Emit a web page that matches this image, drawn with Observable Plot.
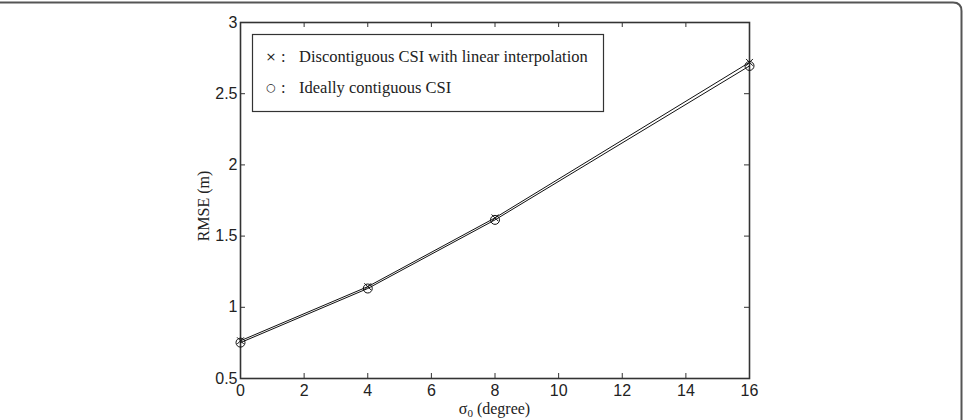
<!DOCTYPE html>
<html>
<head>
<meta charset="utf-8">
<script src="https://cdn.jsdelivr.net/npm/d3@7"></script>
<script src="https://cdn.jsdelivr.net/npm/@observablehq/plot@0.6"></script>
<style>
  html, body { margin: 0; padding: 0; background: #fff; }
  #chart { position: relative; width: 964px; height: 420px; }
</style>
</head>
<body>
<div id="chart"></div>
<script>
// Angular spread sigma_0 (degrees) and position RMSE (m) for the two CSI cases
const sigma = [0, 4, 8, 16];
const rmseInterp = [0.765, 1.145, 1.628, 2.72];  // discontiguous CSI, linear interpolation
const rmseIdeal = [0.752, 1.132, 1.614, 2.695];  // ideally contiguous CSI

const xTicks = [0, 2, 4, 6, 8, 10, 12, 14, 16];
const yTicks = [0.5, 1, 1.5, 2, 2.5, 3];

const legendLabels = [
  "Discontiguous CSI with linear interpolation",
  "Ideally contiguous CSI"
];
const legendGlyphs = ["\u00d7", "\u25cb"];

const W = 964, H = 420;
const mL = 240, mR = 215, mT = 22, mB = 42;
const innerW = W - mL - mR, innerH = H - mT - mB;

const interp = sigma.map((s, i) => ({s, v: rmseInterp[i]}));
const ideal = sigma.map((s, i) => ({s, v: rmseIdeal[i]}));

const tickLen = 5;
const axisColor = "#333";
const fmt = d => String(d);

const chart = Plot.plot({
  width: W,
  height: H,
  marginLeft: mL,
  marginRight: mR,
  marginTop: mT,
  marginBottom: mB,
  style: {fontFamily: "'Liberation Sans', Arial, sans-serif", fontSize: "16px", color: "#222", background: "#fff"},
  x: {domain: [0, 16], ticks: xTicks},
  y: {domain: [0.5, 3], ticks: yTicks},
  marks: [
    // inward tick marks on all four sides
    Plot.tickX(xTicks, {x: d => d, insetTop: innerH - tickLen, stroke: axisColor}),
    Plot.tickX(xTicks, {x: d => d, insetBottom: innerH - tickLen, stroke: axisColor}),
    Plot.tickY(yTicks, {y: d => d, insetRight: innerW - tickLen, stroke: axisColor}),
    Plot.tickY(yTicks, {y: d => d, insetLeft: innerW - tickLen, stroke: axisColor}),
    Plot.axisX({ticks: xTicks, tickSize: 0, tickPadding: 6, tickFormat: fmt, label: null, fill: "#222"}),
    Plot.axisY({ticks: yTicks, tickSize: 0, tickPadding: 3, tickFormat: fmt, label: null, fill: "#222"}),
    Plot.frame({stroke: axisColor, strokeWidth: 1.6}),
    Plot.line(interp, {x: "s", y: "v", stroke: "#111", strokeWidth: 1}),
    Plot.line(ideal, {x: "s", y: "v", stroke: "#111", strokeWidth: 1}),
    Plot.dot(interp, {x: "s", y: "v", symbol: "times", r: 3.2, stroke: "#111", strokeWidth: 1}),
    Plot.dot(ideal, {x: "s", y: "v", symbol: "circle", r: 4.5, stroke: "#111", strokeWidth: 1, fill: "none"})
  ]
});

const svg = d3.select(chart);

// outer panel border (top edge with rounded corner on the right)
svg.append("path")
  .attr("d", `M0,2.5 H953 Q961.5,2.5 961.5,11 V${H}`)
  .attr("fill", "none")
  .attr("stroke", "#555")
  .attr("stroke-width", 2);

// axis titles
const serif = "'Liberation Serif', 'Times New Roman', serif";
svg.append("text")
  .attr("transform", `translate(209,${mT + innerH / 2 + 6}) rotate(-90)`)
  .attr("text-anchor", "middle")
  .attr("font-family", serif)
  .attr("font-size", 16)
  .attr("fill", "#222")
  .text("RMSE (m)");

const xl = svg.append("text")
  .attr("x", mL + innerW / 2)
  .attr("y", 414)
  .attr("text-anchor", "middle")
  .attr("font-family", serif)
  .attr("font-size", 16)
  .attr("fill", "#222");
xl.append("tspan").text("\u03c3");
xl.append("tspan").attr("font-size", 11).attr("dy", 3).text("0");
xl.append("tspan").attr("dy", -3).text(" (degree)");

// legend box
const lg = svg.append("g");
lg.append("rect")
  .attr("x", 252.5).attr("y", 34.5)
  .attr("width", 351).attr("height", 77)
  .attr("fill", "#fff")
  .attr("stroke", "#333")
  .attr("stroke-width", 1.2);
const rowsY = [62, 93];
legendLabels.forEach((label, i) => {
  lg.append("text")
    .attr("x", 271).attr("y", rowsY[i] - (i === 0 ? 1 : 2))
    .attr("text-anchor", "middle")
    .attr("font-family", "'DejaVu Sans', sans-serif")
    .attr("font-size", i === 0 ? 13 : 11)
    .attr("fill", "#222")
    .text(legendGlyphs[i]);
  lg.append("text")
    .attr("x", 281).attr("y", rowsY[i])
    .attr("text-anchor", "start")
    .attr("font-family", serif)
    .attr("font-size", 16.5)
    .attr("fill", "#222")
    .text(":");
  lg.append("text")
    .attr("x", 299).attr("y", rowsY[i])
    .attr("text-anchor", "start")
    .attr("font-family", serif)
    .attr("font-size", 16.5)
    .attr("fill", "#222")
    .text(label);
});

document.getElementById("chart").appendChild(chart);
</script>
</body>
</html>
